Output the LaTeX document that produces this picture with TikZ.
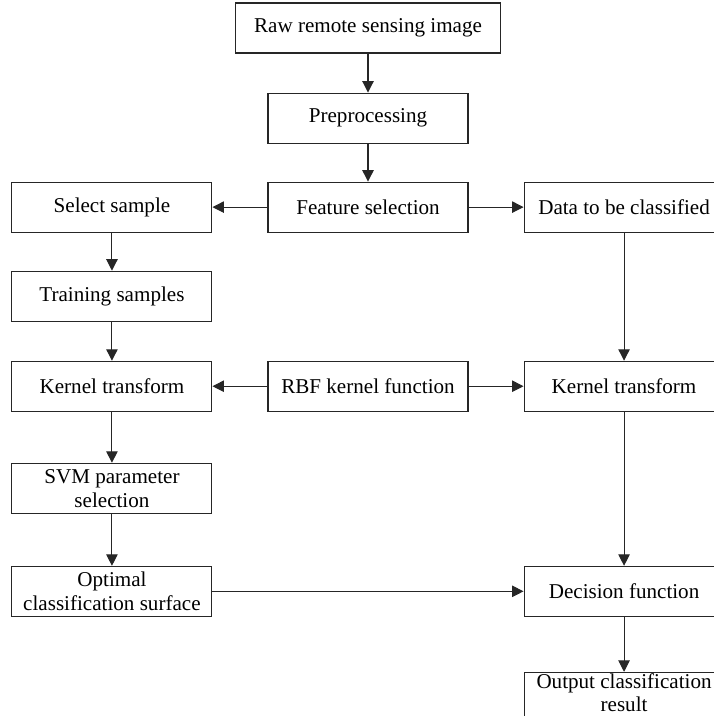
\documentclass[tikz,border=0pt]{standalone}
\usepackage{fontspec}
\setmainfont{Liberation Serif}
\usepackage{tikz}
\usetikzlibrary{arrows.meta, positioning}

\begin{document}
\begin{tikzpicture}[
        node distance=0.78cm and 1.1cm,
        block/.style={rectangle, draw=black!85, line width=0.6pt, minimum width=4cm, minimum height=1cm, inner ysep=1pt, align=center, font=\fontsize{12}{13.5}\selectfont},
        line/.style={draw=black!85, line width=0.6pt, -{Triangle[length=6.5pt, width=6.5pt]}}
    ]
        \useasboundingbox (0,0) rectangle (14.26,-14.32);

        \node [block, minimum width=5.3cm] (raw) at (7.36,-0.56) {Raw remote sensing image};
        \node [block, below=0.78cm of raw] (prep) {Preprocessing};
        \node [block, below=0.76cm of prep] (feat) {Feature selection};
        \node [block, left=of feat] (select) {Select sample};
        \node [block, right=of feat] (data) {Data to be classified};
        \node [block, below=0.76cm of select] (train) {Training samples};
        \node [block, below=0.78cm of train] (kleft) {Kernel transform};
        \node [block, right=of kleft] (rbf) {RBF kernel function};
        \node [block, right=of rbf] (kright) {Kernel transform};
        \node [block, below=1.02cm of kleft] (svm) {SVM parameter\\selection};
        \node [block, below=1.04cm of svm] (optimal) {Optimal\\classification surface};
        \node [block] (decision) at (kright |- optimal) {Decision function};
        \node [block, below=1.1cm of decision, text depth=5pt, font=\fontsize{12}{13}\selectfont] (output) {Output classification\\result};

        \draw[line] (raw) -- (prep);
        \draw[line] (prep) -- (feat);
        \draw[line] (feat) -- (select);
        \draw[line] (feat) -- (data);
        \draw[line] (select) -- (train);
        \draw[line] (train) -- (kleft);
        \draw[line] (data) -- (kright);
        \draw[line] (rbf) -- (kleft);
        \draw[line] (rbf) -- (kright);
        \draw[line] (kleft) -- (svm);
        \draw[line] (svm) -- (optimal);
        \draw[line] (optimal) -- (decision);
        \draw[line] (kright) -- (decision);
        \draw[line] (decision) -- (output);
    \end{tikzpicture}
\end{document}
